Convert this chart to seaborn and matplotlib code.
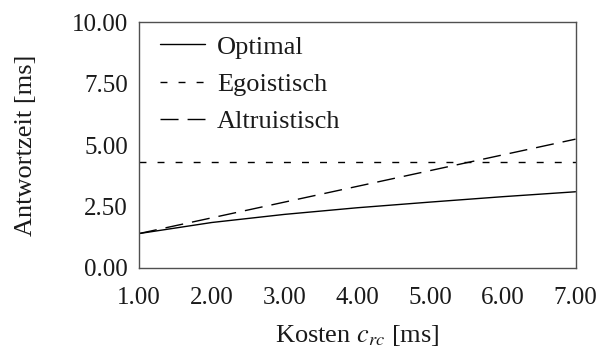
import matplotlib
matplotlib.use("Agg")
import matplotlib.pyplot as plt
import seaborn as sns
import pandas as pd

# Kosten c_rc [ms]
kosten = [1.0, 2.0, 3.0, 4.0, 5.0, 6.0, 7.0]
# Antwortzeiten [ms] je Strategie
optimal = [1.40, 1.85, 2.18, 2.45, 2.68, 2.90, 3.10]
egoistisch = [4.30, 4.30, 4.30, 4.30, 4.30, 4.30, 4.30]
altruistisch = [1.40, 2.04, 2.68, 3.32, 3.96, 4.60, 5.24]
strategien = ["Optimal", "Egoistisch", "Altruistisch"]
x_ticks = [1.0, 2.0, 3.0, 4.0, 5.0, 6.0, 7.0]
y_ticks = [0.0, 2.5, 5.0, 7.5, 10.0]

sns.set_theme(style="white")
plt.rcParams["font.family"] = ["Liberation Serif", "DejaVu Serif"]
plt.rcParams["mathtext.fontset"] = "stix"
plt.rcParams["lines.scale_dashes"] = False

df = pd.DataFrame({
    "Kosten": kosten * 3,
    "Antwortzeit": optimal + egoistisch + altruistisch,
    "Strategie": [s for s in strategien for _ in kosten],
})

fig = plt.figure(figsize=(6.0, 3.51), dpi=100)
ax = fig.add_axes([0.2317, 0.2365, 0.7275, 0.7005])

sns.lineplot(
    data=df, x="Kosten", y="Antwortzeit", style="Strategie",
    style_order=strategien,
    dashes={"Optimal": "", "Egoistisch": (5, 8), "Altruistisch": (13, 6.5)},
    color="black", linewidth=1.0, ax=ax,
)

ax.set_xlim(1.0, 7.0)
ax.set_ylim(0.0, 10.0)
ax.set_xticks(x_ticks)
ax.set_yticks(y_ticks)
ax.set_xticklabels([f"{v:.2f}" for v in x_ticks])
ax.set_yticklabels([f"{v:.2f}" for v in y_ticks])
ax.tick_params(axis="both", length=0, labelsize=18, colors="#1a1a1a")
ax.tick_params(axis="x", pad=14)
ax.tick_params(axis="y", pad=8)

for sp in ax.spines.values():
    sp.set_color("#505050")
    sp.set_linewidth(1.0)

ax.set_xlabel("Kosten $c_{rc}$ [ms]", fontsize=19, color="#1a1a1a", labelpad=10)
ax.set_ylabel("Antwortzeit [ms]", fontsize=19, color="#1a1a1a", labelpad=25)

leg = ax.legend(
    loc="upper left", frameon=False, fontsize=19, handlelength=1.7,
    handletextpad=0.45, labelspacing=0.52, borderaxespad=0.0,
    bbox_to_anchor=(0.024, 0.99),
)
for t in leg.get_texts():
    t.set_color("#1a1a1a")

fig.savefig("out.png", dpi=100)
